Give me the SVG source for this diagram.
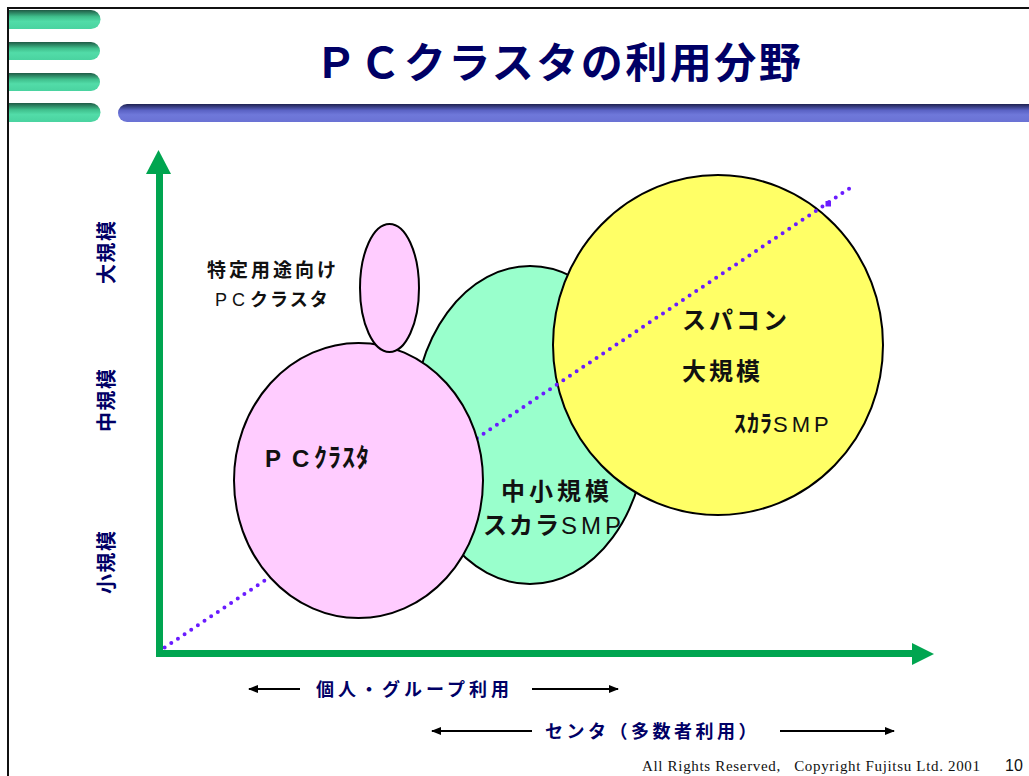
<svg xmlns="http://www.w3.org/2000/svg" width="1029" height="776" viewBox="0 0 1029 776">
<defs>
<linearGradient id="gbar" x1="0" y1="0" x2="0" y2="1">
<stop offset="0" stop-color="#1f5a45"/>
<stop offset="0.35" stop-color="#3fbf8c"/>
<stop offset="0.6" stop-color="#52dca8"/>
<stop offset="1" stop-color="#4ad3a0"/>
</linearGradient>
<linearGradient id="bbar" x1="0" y1="0" x2="0" y2="1">
<stop offset="0" stop-color="#1e2150"/>
<stop offset="0.35" stop-color="#5a62c4"/>
<stop offset="0.6" stop-color="#6f78da"/>
<stop offset="1" stop-color="#6a72d4"/>
</linearGradient>
<marker id="ah" markerWidth="10" markerHeight="8" refX="9" refY="4" orient="auto" markerUnits="userSpaceOnUse">
<path d="M0,0 L10,4 L0,8 Z" fill="#000"/>
</marker>
<style>
.jp{font-family:"Noto Sans CJK JP","Noto Sans",sans-serif;}
.lat{font-family:"Liberation Sans",Arial,sans-serif;}
.navy{fill:#000066;font-weight:bold;}
.blk{fill:#111;}
.b{font-weight:bold;}
.shape{stroke:#000;stroke-width:2;}
.axis{stroke:#00a550;stroke-width:7;fill:none;}
.harrow{stroke:#000;stroke-width:2;fill:none;marker-end:url(#ah);}
</style>
</defs>
<rect x="0" y="0" width="1029" height="776" fill="#fff"/>
<!-- frame -->
<path d="M8,776 L8,8 L1029,8" fill="none" stroke="#111" stroke-width="2"/>
<!-- header bars -->
<g id="header">
<path d="M9,10 H91 A9.5,9.5 0 0 1 91,29 H9 Z" fill="url(#gbar)"/>
<path d="M9,42 H91 A9,9 0 0 1 91,60 H9 Z" fill="url(#gbar)"/>
<path d="M9,73 H91 A9,9 0 0 1 91,91 H9 Z" fill="url(#gbar)"/>
<path d="M9,103 H91 A9.5,9.5 0 0 1 91,122 H9 Z" fill="url(#gbar)"/>
<path d="M127,104 H1029 V122 H127 A9,9 0 0 1 127,104 Z" fill="url(#bbar)"/>
</g>
<text id="title" class="jp" x="559" y="78" text-anchor="middle" font-size="42" font-weight="bold" fill="#000066" letter-spacing="2.5">ＰＣクラスタの利用分野</text>
<!-- shapes -->
<g id="mid-smp"><ellipse class="shape" cx="530" cy="425" rx="117" ry="159" fill="#99ffcc"/></g>
<g id="supercomputer"><ellipse class="shape" cx="718" cy="345" rx="165" ry="170" fill="#ffff66"/></g>
<g id="connectors">
<line x1="158" y1="652" x2="850" y2="188" stroke="#6a1cff" stroke-width="4" stroke-linecap="round" stroke-dasharray="0 8"/>
<rect x="825.5" y="201" width="5.5" height="5.5" fill="#6a1cff"/>
</g>
<g id="pc-cluster"><ellipse class="shape" cx="358.5" cy="480.5" rx="124.5" ry="137.5" fill="#ffccff"/></g>
<g id="special-pc"><ellipse class="shape" cx="389.5" cy="288" rx="29.5" ry="64" fill="#ffccff"/></g>
<!-- axes -->
<g id="axes">
<line class="axis" x1="159.5" y1="657" x2="159.5" y2="170"/>
<polygon points="158.5,150 171,174 146,174" fill="#00a550"/>
<line class="axis" x1="156" y1="653.5" x2="916" y2="653.5"/>
<polygon points="934,654 912,643 912,665" fill="#00a550"/>
</g>
<!-- axis labels -->
<g id="ylabels" class="jp navy" font-size="20" letter-spacing="1.5">
<text transform="translate(114,284) rotate(-90)">大規模</text>
<text transform="translate(114,432) rotate(-90)">中規模</text>
<text transform="translate(114,594) rotate(-90)">小規模</text>
</g>
<!-- node labels -->
<g id="special-label">
<text class="jp blk b" x="207" y="277" font-size="19" letter-spacing="3">特定用途向け</text>
<text class="jp blk" x="215" y="306" font-size="18"><tspan class="lat" letter-spacing="5">PC</tspan><tspan font-weight="bold" letter-spacing="2">クラスタ</tspan></text>
</g>
<g id="pc-label">
<text class="blk b" x="265" y="467" font-size="24"><tspan class="lat" x="265">P</tspan><tspan class="lat" x="292">C</tspan><tspan class="jp" x="314" font-size="26" letter-spacing="1">ｸﾗｽﾀ</tspan></text>
</g>
<g id="mid-label">
<text class="jp blk b" x="501" y="500" font-size="24" letter-spacing="4">中小規模</text>
<text class="jp blk" x="483" y="534" font-size="24"><tspan font-weight="bold" letter-spacing="2">スカラ</tspan><tspan class="lat" letter-spacing="4">SMP</tspan></text>
</g>
<g id="super-label">
<text class="jp blk b" x="682" y="329" font-size="24" letter-spacing="3">スパコン</text>
<text class="jp blk b" x="682" y="380" font-size="24" letter-spacing="3">大規模</text>
<text class="jp blk" x="734" y="432" font-size="24"><tspan font-weight="bold" letter-spacing="1">ｽｶﾗ</tspan><tspan class="lat" font-size="22" letter-spacing="4">SMP</tspan></text>
</g>
<!-- bottom ranges -->
<g id="range-personal">
<line class="harrow" x1="300" y1="689" x2="249" y2="689"/>
<line class="harrow" x1="532" y1="689" x2="618" y2="689"/>
<text class="jp navy" x="316" y="696" font-size="18" letter-spacing="4">個人・グループ利用</text>
</g>
<g id="range-center">
<line class="harrow" x1="532" y1="731" x2="432" y2="731"/>
<line class="harrow" x1="780" y1="731" x2="894" y2="731"/>
<text class="jp navy" x="545" y="738" font-size="18" letter-spacing="3.5">センタ（多数者利用）</text>
</g>
<!-- footer -->
<text x="642" y="771" font-family="'Liberation Serif','Times New Roman',serif" font-size="15" fill="#111" xml:space="preserve" textLength="338">All Rights Reserved,   Copyright Fujitsu Ltd. 2001</text>
<text x="1005" y="771" font-family="'Liberation Sans',Arial,sans-serif" font-size="16" fill="#111">10</text>
</svg>
